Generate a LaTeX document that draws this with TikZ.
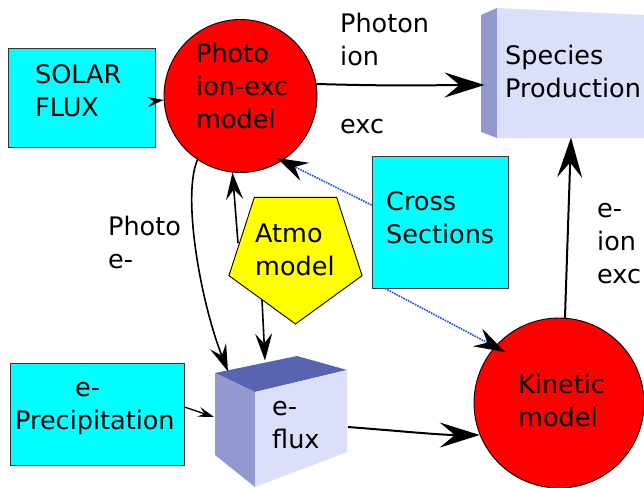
\documentclass[tikz,border=0pt]{standalone}
\usepackage{fontspec}
\setmainfont{DejaVu Sans}
\usetikzlibrary{arrows.meta,shapes.geometric}
\definecolor{inputcyan}{HTML}{00FFFF}
\definecolor{modelred}{HTML}{FF0000}
\definecolor{atmoyellow}{HTML}{FFFF00}
\definecolor{facefront}{HTML}{DCDFFA}
\definecolor{faceside}{HTML}{9199CE}
\definecolor{facetop}{HTML}{5664B2}
\definecolor{dotblue}{HTML}{1A4CF0}
\begin{document}
\begin{tikzpicture}[x=1pt,y=-1pt,
  % multi-line labels: the anchor sits on the baseline of the last line
  txt/.style={font=\fontsize{25.5}{33}\selectfont, align=left, inner sep=0pt, anchor=base west},
  inbox/.style={draw=black!80, line width=0.9pt, fill=inputcyan, inner sep=0pt},
  model/.style={circle, draw=black, line width=0.9pt, fill=modelred, inner sep=0pt},
  hidden/.style={inner sep=0pt, outer sep=0pt},
  bigtip/.tip={Stealth[length=40pt,width=25pt,inset=15pt]},
  midtip/.tip={Stealth[length=27pt,width=17pt,inset=10pt]},
  xtip/.tip={Stealth[length=31pt,width=20pt,inset=11pt,color=black]},
  smalltip/.tip={Stealth[length=16pt,width=10pt,inset=6pt]},
  bigarr/.style={line width=2pt, -bigtip},
  midarr/.style={line width=1.6pt, -midtip},
  smallarr/.style={line width=1.3pt, -smalltip},
  xsec/.style={draw=dotblue, line width=1.6pt, dash pattern=on 1.6pt off 1pt, -xtip},
]
\useasboundingbox[fill=white] (0,0) rectangle (644,487);

% input boxes
\node[inbox, minimum width=147pt, minimum height=99pt] (solar) at (81.5,97.5) {};
\node[inbox, minimum width=136pt, minimum height=132pt] (cross) at (440,222) {};
\node[inbox, minimum width=174pt, minimum height=102pt] (eprec) at (97,414) {};

% models
\node[model, minimum size=153pt] (photo) at (240.5,96) {};
\node[model, minimum size=170pt] (kinetic) at (559,403) {};
\node[regular polygon, regular polygon sides=5, shape border rotate=180,
      minimum size=140pt, inner sep=0pt, draw=black, line width=0.9pt,
      fill=atmoyellow] (atmo) at (295.5,254) {};

% species production block, seen in perspective
\fill[faceside] (481,15) -- (497,8) -- (497,138) -- (481,132) -- cycle;
\fill[facefront] (497,8) -- (644,15) -- (644,138) -- (497,138) -- cycle;
\node[hidden, minimum width=163pt, minimum height=123pt] (species) at (562.5,76.5) {};

% e-flux cube
\fill[facetop] (215,373) -- (297,356) -- (347,370) -- (255,392) -- cycle;
\fill[faceside] (215,373) -- (255,392) -- (255,487) -- (215,455) -- cycle;
\fill[facefront] (255,392) -- (347,370) -- (347,452) -- (255,487) -- cycle;
\node[hidden, minimum width=132pt, minimum height=131pt] (eflux) at (281,421.5) {};

% texts
\node[txt] (solarT) at (35,116) {SOLAR\\FLUX};
\node[txt] (photoT) at (196,128) {Photo\\ion-exc\\model};
\node[txt] (speciesT) at (505,97) {Species\\Production};
\node[txt] (crossT) at (386,243) {Cross\\Sections};
\node[txt] (atmoT) at (255,275) {Atmo\\model};
\node[txt] (eprecT) at (15,429) {\hspace*{60pt}e-\\Precipitation};
\node[txt] (efluxT) at (272,448) {e-\\flux};
\node[txt] (kineticT) at (518,426) {Kinetic\\model};
\node[txt] (photonL) at (340,66) {Photon\\ion};
\node[txt] (excL) at (340,133) {exc};
\node[txt] (photoeL) at (108,268) {Photo\\e-};
\node[txt] (eionL) at (597,283) {e-\\ion\\exc};

% connectors
\draw[smallarr] ([shift={(0,3.5)}]solar.east) -- (photo.183);
\draw[bigarr] (photo.9) .. controls (400,86.5) and (440,85) .. ([shift={(-78,8.5)}]species.center);
\draw[midarr] (photo.236) .. controls (182,195) and (200,300) .. ([shift={(-53,-50)}]eflux.center);
\draw[midarr] ([shift={(-57.5,-11)}]atmo.center) -- (photo.264);
\draw[midarr] ([shift={(-33.5,46)}]atmo.center) -- ([shift={(-16,-61)}]eflux.center);
\draw[xsec] ([shift={(0,-17)}]cross.west) -- ([shift={(36.5,62)}]photo.center);
\draw[xsec] ([shift={(-55,0)}]cross.south) -- ([shift={(-54,-51)}]kinetic.center);
\draw[smallarr] ([shift={(0,-7)}]eprec.east) -- ([shift={(-67,-4.5)}]eflux.center);
\draw[bigarr] ([shift={(67,5.5)}]eflux.center) .. controls (400,431) and (440,435) .. (kinetic.202);
\draw[bigarr] (kinetic.86) -- ([shift={(8.5,61)}]species.center);
\end{tikzpicture}
\end{document}
